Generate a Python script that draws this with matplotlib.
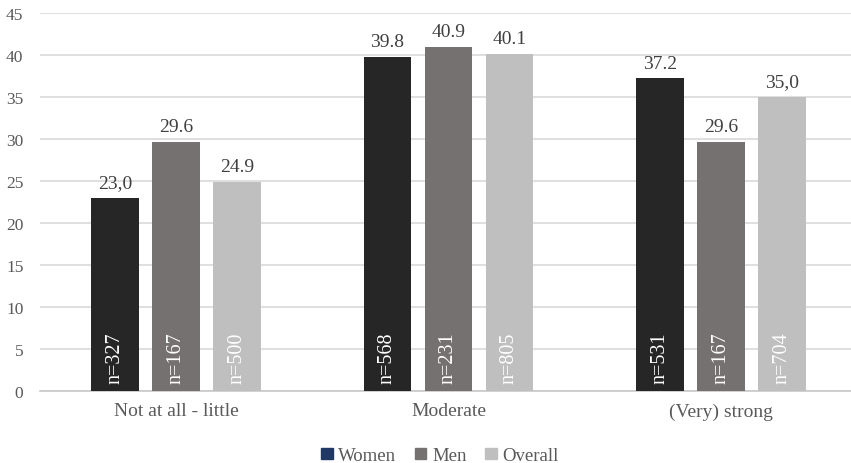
import numpy as np
import matplotlib.pyplot as plt
from matplotlib.patches import Patch

categories = ['Not at all - little', 'Moderate', '(Very) strong']
women = [23.0, 39.8, 37.2]
men = [29.6, 40.9, 29.6]
overall = [24.9, 40.1, 35.0]
women_lbl = ['23,0', '39.8', '37.2']
men_lbl = ['29.6', '40.9', '29.6']
overall_lbl = ['24.9', '40.1', '35,0']
women_n = [327, 568, 531]
men_n = [167, 231, 167]
overall_n = [500, 805, 704]

plt.rcParams['font.family'] = ['Liberation Serif', 'DejaVu Serif']

fig = plt.figure(figsize=(8.51, 4.64), dpi=100)
ax = fig.add_axes([0.047, 0.155, 0.96, 0.815])

x = np.arange(len(categories))
w = 0.176
off = 0.224
series = [
    (women, women_lbl, women_n, '#262626'),
    (men, men_lbl, men_n, '#767171'),
    (overall, overall_lbl, overall_n, '#BFBFBF'),
]

for i, (vals, lbls, ns, col) in enumerate(series):
    pos = x + (i - 1) * off
    ax.bar(pos, vals, width=w, color=col, zorder=3)
    for p, v, lb, n in zip(pos, vals, lbls, ns):
        ax.annotate(lb, (p, v), xytext=(0, 5), textcoords='offset points',
                    ha='center', va='bottom', fontsize=14, color='#404040')
        ax.text(p, 1.0, f'n={n}', rotation=90, ha='center', va='bottom',
                fontsize=14.5, color='white', zorder=4)

ax.set_ylim(0, 45)
ax.set_yticks(range(0, 46, 5))
ax.set_xlim(-0.5, 2.5)
ax.set_xticks(x)
ax.set_xticklabels(categories)
ax.tick_params(axis='both', length=0, colors='#595959', labelsize=12.5)
ax.tick_params(axis='x', labelsize=14, pad=8)
ax.tick_params(axis='y', pad=12)
ax.yaxis.grid(True, color='#D9D9D9', linewidth=1.2, zorder=0)
for s in ['top', 'right', 'left']:
    ax.spines[s].set_visible(False)
ax.spines['bottom'].set_color('#C8C8C8')
ax.spines['bottom'].set_linewidth(1.2)

handles = [Patch(color='#1F3864', label='Women'),
           Patch(color='#767171', label='Men'),
           Patch(color='#BFBFBF', label='Overall')]
fig.legend(handles=handles, loc='center', bbox_to_anchor=(0.517, 0.016),
           ncol=3, frameon=False, fontsize=13.5, handlelength=0.6,
           handleheight=0.6, handletextpad=0.3, columnspacing=1.0,
           labelcolor='#595959')

fig.savefig('out.png', dpi=100)
